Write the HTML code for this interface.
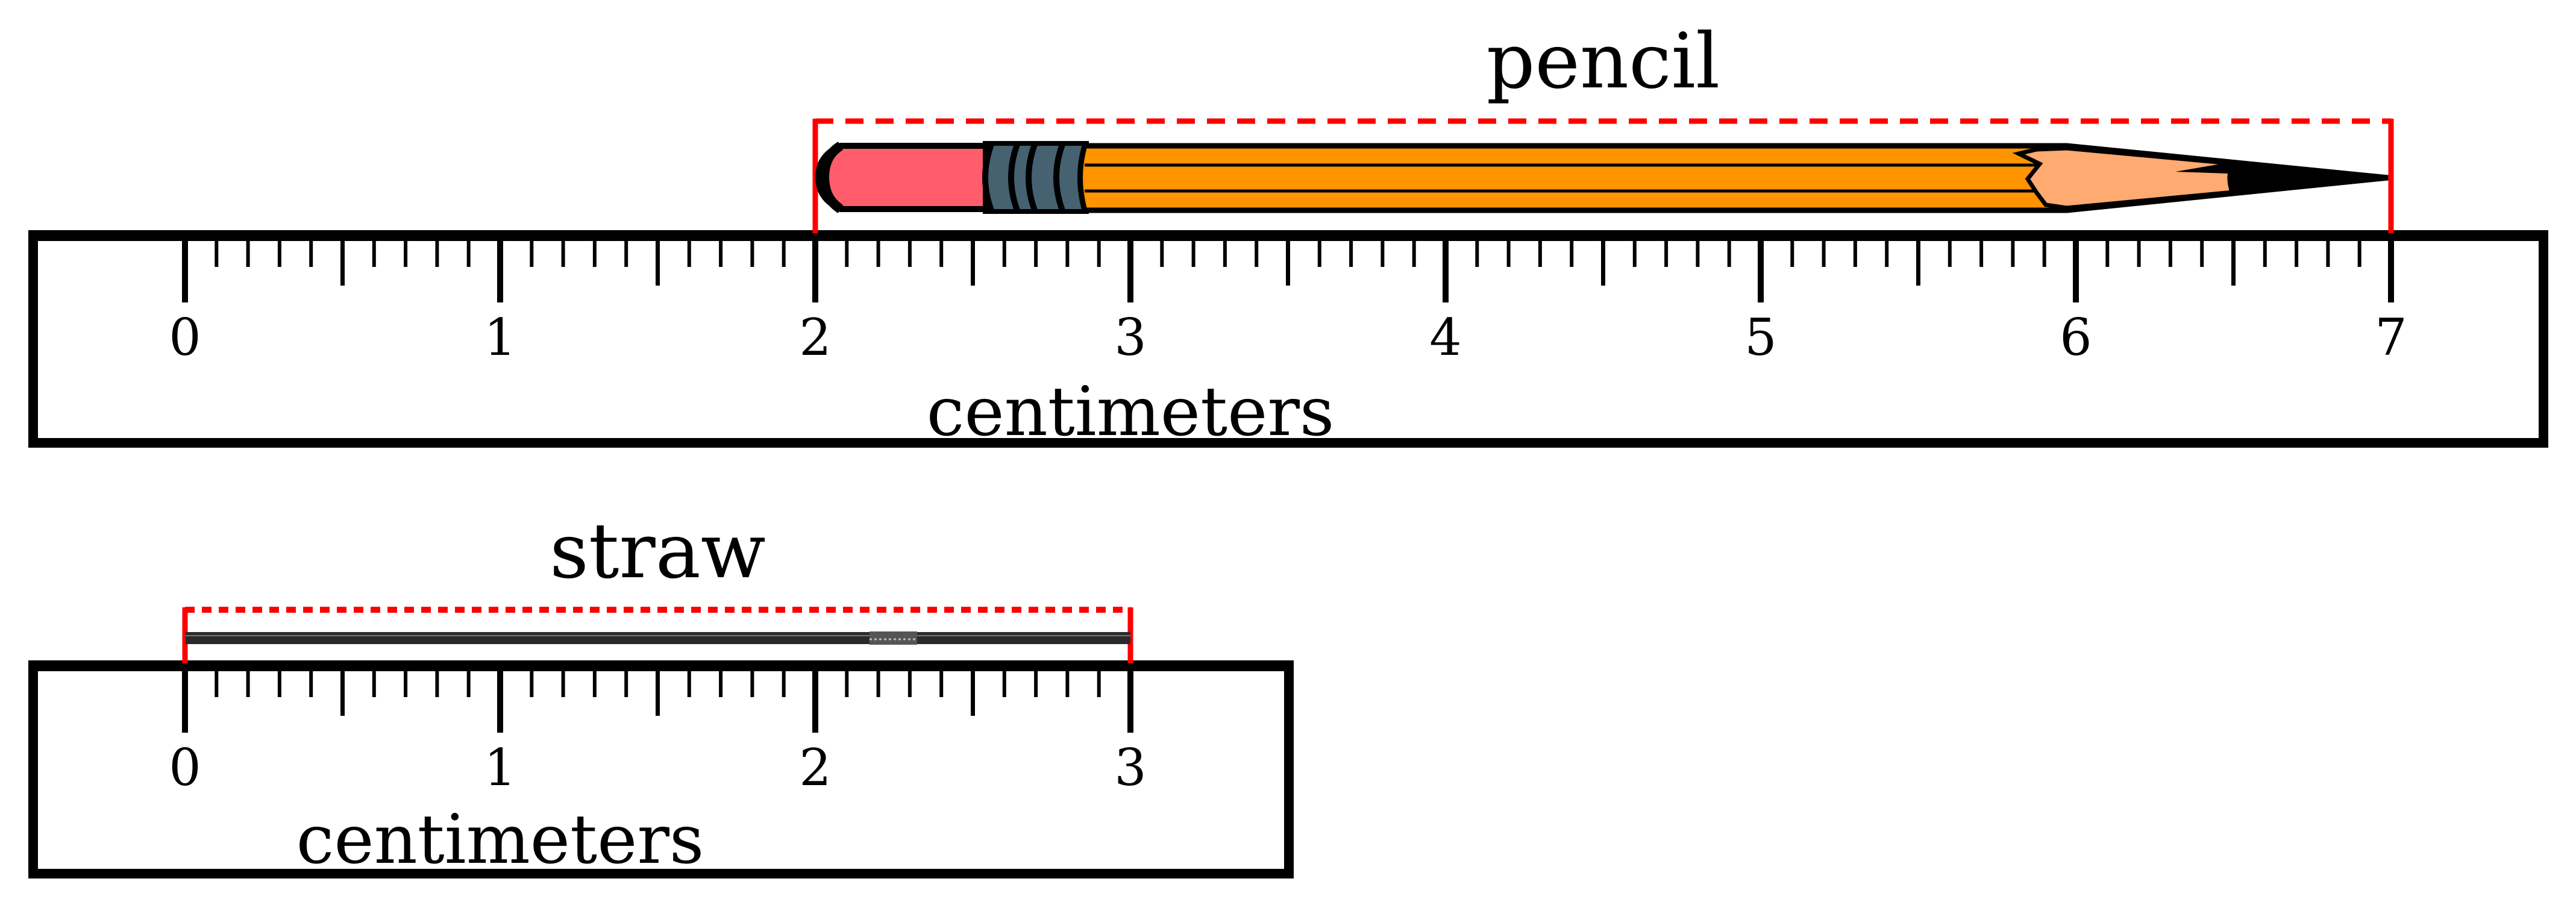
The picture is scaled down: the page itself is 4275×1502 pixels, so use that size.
<!DOCTYPE html>
<html><head><meta charset="utf-8"><style>
html,body{margin:0;padding:0;background:#fff;width:4275px;height:1502px;overflow:hidden}
svg{display:block}
text{font-family:"DejaVu Serif","Liberation Serif",serif;fill:#000}
</style></head><body>
<svg id="chart" width="4275" height="1502" viewBox="0 0 4275 1502" xmlns="http://www.w3.org/2000/svg">
<g id="pencil-ruler"></g>
<g id="straw-ruler"></g>
<g id="pencil">
  <path d="M1395,242 L1640,242 L1640,347 L1395,347 Q1358,330 1358,294 Q1358,258 1395,242 Z" fill="#ff5d6b" stroke="#000" stroke-width="10"/>
  <path d="M1395,242 Q1368,258 1368,294 Q1368,330 1395,347" fill="none" stroke="#000" stroke-width="16"/>
  <rect x="1635" y="238" width="168" height="113" fill="#466170" stroke="#000" stroke-width="8"/>
  <path d="M1645,240 Q1625,294 1645,349" fill="none" stroke="#000" stroke-width="10"/>
  <path d="M1688,240 Q1668,294 1688,349" fill="none" stroke="#000" stroke-width="10"/>
  <path d="M1717,240 Q1697,294 1717,349" fill="none" stroke="#000" stroke-width="10"/>
  <path d="M1763,240 Q1743,294 1763,349" fill="none" stroke="#000" stroke-width="10"/>
  <path d="M1800,242 L3430,242 L3963,295 L3430,349 L1800,349 Q1785,294 1800,242 Z" fill="#ff9300" stroke="#000" stroke-width="9"/>
  <line x1="1800" y1="274" x2="3390" y2="274" stroke="#000" stroke-width="5"/>
  <line x1="1800" y1="317" x2="3390" y2="317" stroke="#000" stroke-width="5"/>
  <path d="M3430,246 L3960,295 L3430,345 L3395,340 L3380,320 L3365,297 L3385,272 L3350,255 L3380,248 Z" fill="#ffaa70" stroke="#000" stroke-width="7"/>
  <path d="M3697,270 L3963,295 L3700,318 Q3695,300 3697,288 L3610,285 Z" fill="#000"/>
</g>
<g id="straw">
  <rect x="308" y="1049" width="1568" height="20" fill="#2a2a2a"/>
  <line x1="308" y1="1055" x2="1876" y2="1055" stroke="#777" stroke-width="2"/>
  <rect x="1443" y="1048" width="79" height="22" fill="#555"/>
  <line x1="1443" y1="1061" x2="1522" y2="1061" stroke="#bbb" stroke-width="3" stroke-dasharray="4,4"/>
</g>
</svg>
<script>
// ruler spans (cm) and measured object extents (cm)
const rulerMaxCm = [7, 3];
const rulerNames = ['pencil-ruler', 'straw-ruler'];
const objectStartCm = [2, 0];
const objectEndCm = [7, 3];
const objectTitles = ['pencil', 'straw'];
const axisTitleCm = [3, 1];

const NS = 'http://www.w3.org/2000/svg';
const zeroX = 307, pxPerCm = 523;
const xScale = cm => zeroX + cm * pxPerCm;
const layouts = [
  {left: 47, right: 4229, top: 382, bottom: 743, bracketY: 201, titleY: 145, numY: 589, unitY: 722},
  {left: 47, right: 2147, top: 1096, bottom: 1458, bracketY: 1012, titleY: 958, numY: 1303, unitY: 1432}
];
function mk(tag, attrs, parent) {
  const el = document.createElementNS(NS, tag);
  for (const k in attrs) el.setAttribute(k, attrs[k]);
  parent.appendChild(el);
  return el;
}
rulerMaxCm.forEach((maxCm, i) => {
  const L = layouts[i];
  const g = document.getElementById(rulerNames[i]);
  const body = mk('rect', {x: L.left + 8, y: L.top + 8, width: L.right - L.left - 16, height: L.bottom - L.top - 16, fill: 'none', stroke: '#000', 'stroke-width': 16}, g);
  
  
  const topBar = mk('rect', {x: L.left, y: L.top, width: L.right - L.left, height: 18, fill: '#000'}, g);
  
  
  for (let t = 0; t <= maxCm * 10; t++) {
    const x = xScale(t / 10);
    const major = t % 10 === 0, half = t % 5 === 0;
    const len = major ? 120 : half ? 92 : 61;
    const tick = mk('line', {x1: x, y1: L.top + 10, x2: x, y2: L.top + len, stroke: '#000', 'stroke-width': major ? 10 : half ? 7 : 6}, g);
    
    
    if (major) {
      const lab = mk('text', {x: x, y: L.numY, 'text-anchor': 'middle', 'font-size': 84}, g);
      lab.textContent = String(t / 10);
      
      
    }
  }
  const unit = mk('text', {x: xScale(axisTitleCm[i]), y: L.unitY, 'text-anchor': 'middle', 'font-size': 112}, g);
  unit.textContent = 'centimeters';
  
  
  const x1 = xScale(objectStartCm[i]), x2 = xScale(objectEndCm[i]);
  const sides = mk('path', {d: `M${x1},${L.top + 5} L${x1},${L.bracketY - 4} M${x2},${L.bracketY - 4} L${x2},${L.top + 5}`, fill: 'none', stroke: '#ff0000', 'stroke-width': 9}, g);
  
  
  const br = mk('path', {d: `M${x1},${L.bracketY} L${x2},${L.bracketY}`, fill: 'none', stroke: '#ff0000', 'stroke-width': i === 0 ? 9 : 10, 'stroke-dasharray': i === 0 ? '30,20' : '16,12'}, g);
  
  
  const title = mk('text', {x: (x1 + x2) / 2, y: L.titleY, 'text-anchor': 'middle', 'font-size': 126}, g);
  title.textContent = objectTitles[i];
  
  
});
</script>
</body></html>
